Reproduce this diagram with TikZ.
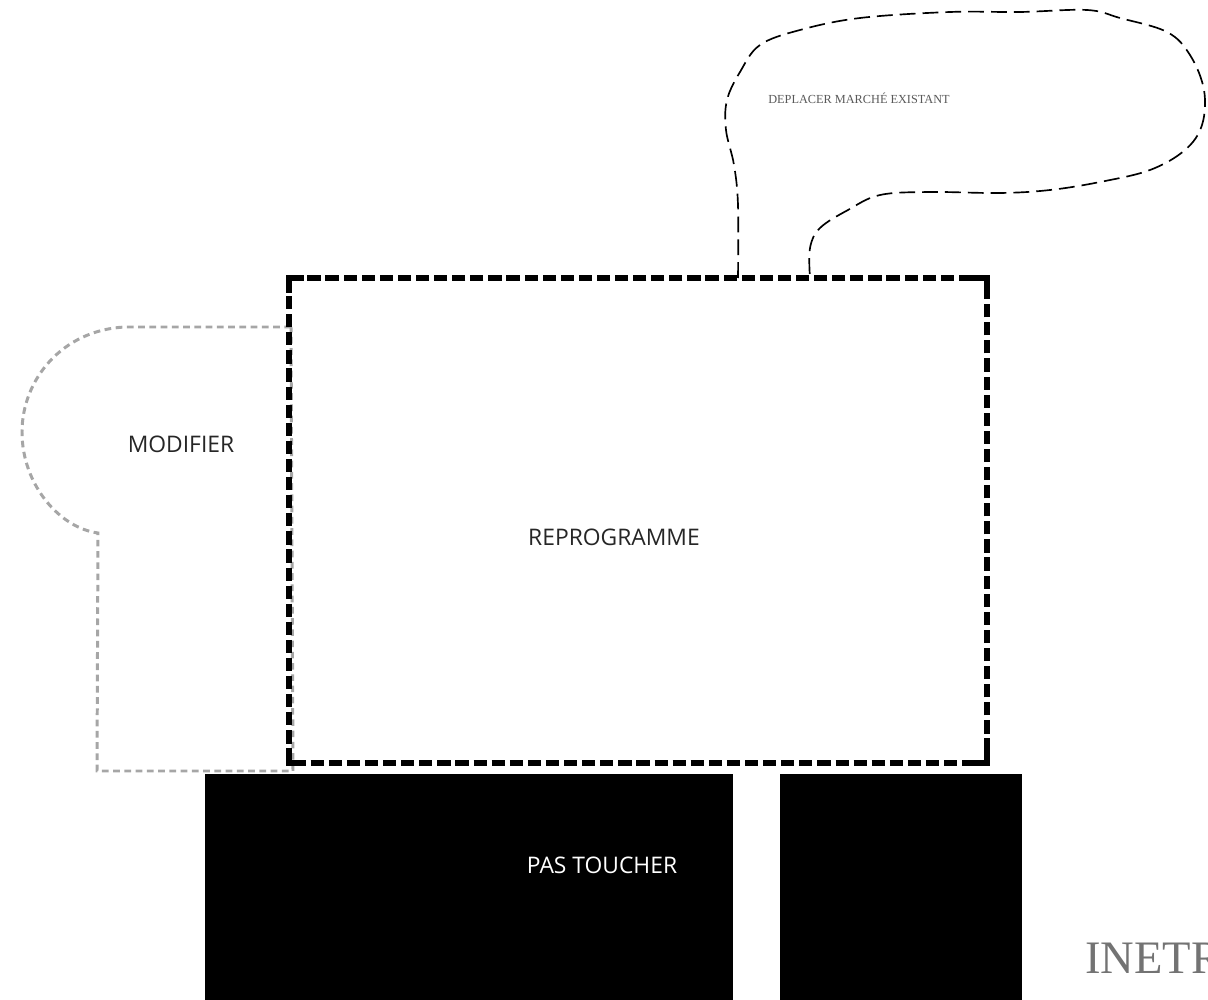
\documentclass[tikz,border=0pt]{standalone}
\usepackage{fontspec}
\setmainfont{Liberation Serif}
\setsansfont{Open Sans}
\begin{document}
\begin{tikzpicture}[x=0.02cm,y=-0.02cm,
    zone/.style={line width=3.2pt,dash pattern=on 7.5pt off 2.8pt},
    coin/.style={line width=3.2pt},
    bulle/.style={line width=0.95pt,dash pattern=on 9pt off 4pt},
    gris/.style={draw=gray!70,line width=1.7pt,dash pattern=on 3.8pt off 2.6pt},
    bloc/.style={fill=black},
    etiquette/.style={font=\sffamily\fontsize{13}{15}\selectfont,text=black!85}]
  \clip (0,0) rectangle (1208,1000);
  \coordinate (NO) at (289,278);
  \coordinate (SE) at (987,763);
  % zone a modifier (gris)
  \draw[gris] (291,327) -- (125,327)
    .. controls (62,330) and (22,380) .. (22,432)
    .. controls (22,485) and (60,528) .. (98,533)
    -- (97,771) -- (293,771) -- cycle;
  % zone reprogrammee
  \draw[zone] (NO) rectangle (SE);
  \draw[coin] (289,293) -- (289,278) -- (304,278);
  \draw[coin] (972,278) -- (987,278) -- (987,293);
  \draw[coin] (289,748) -- (289,763) -- (304,763);
  \draw[coin] (972,763) -- (987,763) -- (987,748);
  % bulle
  \draw[bulle] plot[smooth,tension=0.6] coordinates {(738,278) (738,205) (734,165)
    (726,130) (727,100) (740,72) (760,45) (800,30) (860,18) (950,12) (1020,12)
    (1087,10) (1120,18) (1167,32) (1190,55) (1204,90) (1202,125) (1185,150)
    (1150,170) (1100,182) (1050,190) (1000,193) (930,192) (880,195) (848,210)
    (820,228) (810,248) (810,278)};
  % blocs fixes
  \fill[bloc] (205,774) rectangle (733,1000);
  \fill[bloc] (780,774) rectangle (1022,1000);
  \node[etiquette] (reprog) at (614,537) {REPROGRAMME};
  \node[etiquette] (modif) at (181,444) {MODIFIER};
  \node[etiquette,text=white] (toucher) at (602,865) {PAS TOUCHER};
  \node[font=\fontsize{7}{8}\selectfont,text=black!65] (deplacer) at (859,98)
    {DEPLACER MARCHÉ EXISTANT};
  \node[font=\fontsize{26.5}{30}\selectfont,text=black!55,anchor=base west,
    inner sep=0pt] (inetr) at (1085,973) {INETR};
\end{tikzpicture}
\end{document}
